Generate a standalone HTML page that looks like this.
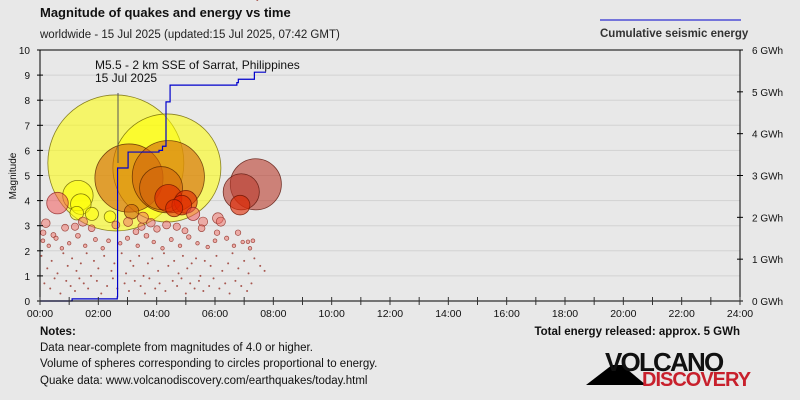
<!DOCTYPE html>
<html><head><meta charset="utf-8"><style>
html,body{margin:0;padding:0;background:#e8e8e8;}
svg{display:block;font-family:"Liberation Sans",sans-serif;}
</style></head><body>
<svg id="chart" width="800" height="400" viewBox="0 0 800 400">
<rect width="800" height="400" fill="#e8e8e8"/>
<text x="40" y="17" font-size="13" font-weight="bold" fill="#111">Magnitude of quakes and energy vs time</text>
<text x="40" y="38" font-size="11.5" fill="#222">worldwide - 15 Jul 2025 (updated:15 Jul 2025, 07:42 GMT)</text>
<line x1="600" y1="20" x2="741" y2="20" stroke="#0000cc" stroke-width="1"/>
<text x="600" y="37" font-size="11.5" font-weight="bold" fill="#333">Cumulative seismic energy</text>
<g id="grid"></g>
<g id="marks"></g>
<g id="energy"></g>
<g id="axes"></g>
<line x1="118" y1="93" x2="118" y2="163" stroke="#555" stroke-width="1"/>
<text x="95" y="69" font-size="12" fill="#111">M5.5 - 2 km SSE of Sarrat, Philippines</text>
<text x="95" y="82" font-size="12" fill="#111">15 Jul 2025</text>
<text transform="translate(16,176) rotate(-90)" text-anchor="middle" font-size="10" fill="#111">Magnitude</text>
<text x="40" y="335" font-size="11.5" font-weight="bold" fill="#111">Notes:</text>
<text x="40" y="351" font-size="11.5" fill="#111">Data near-complete from magnitudes of 4.0 or higher.</text>
<text x="40" y="367" font-size="11.5" fill="#111">Volume of spheres corresponding to circles proportional to energy.</text>
<text x="40" y="384" font-size="11.5" fill="#111">Quake data: www.volcanodiscovery.com/earthquakes/today.html</text>
<text x="740" y="335" text-anchor="end" font-size="11.5" font-weight="bold" fill="#111">Total energy released: approx. 5 GWh</text>
<g>
<polygon points="586,385 612,365 622,365 646,385" fill="#000"/>
<text x="605" y="371" font-size="26" font-weight="bold" fill="#111" letter-spacing="-1.8">VOLCANO</text>
<text x="642" y="386" font-size="20" font-weight="bold" fill="#c8202c" letter-spacing="-1">DISCOVERY</text>
</g>
</svg>
<script>
const xTicks=["00:00","02:00","04:00","06:00","08:00","10:00","12:00","14:00","16:00","18:00","20:00","22:00","24:00"];
const yTicks=[0,1,2,3,4,5,6,7,8,9,10];
const eTicks=["0 GWh","1 GWh","2 GWh","3 GWh","4 GWh","5 GWh","6 GWh"];
// big & medium quakes: hours, magnitudes, colour class
const bigTime=[2.6,4.35,3.05,4.4,7.4,6.9,1.3,4.15,4.4,5.0,0.6,1.4,4.86,6.86,3.14,2.4,5.25,1.26,1.78,4.6];
const bigMag=[5.5,5.3,4.9,4.95,4.65,4.35,4.2,4.5,4.1,3.95,3.9,3.86,3.82,3.82,3.56,3.36,3.47,3.5,3.47,3.7];
const bigCol=["y","y","o","o","d","d","y","o","r","r","p","y","r","r","o","y","p","y","y","r"];
// smaller quakes
const smallTime=[0.2,0.11,0.46,0.86,1.2,1.47,1.77,2.6,3.02,3.53,3.8,3.29,3.48,4.01,4.34,4.69,4.97,5.59,5.54,6.1,6.2,6.07,6.79,7.13,0.1,0.3,0.55,0.75,1.0,1.3,1.55,1.9,2.15,2.35,2.75,3.0,3.35,3.65,3.9,4.2,4.5,4.8,5.1,5.4,5.75,6.0,6.4,6.65,6.95,7.2,7.3,0.05,0.25,0.4,0.6,0.8,0.95,1.1,1.25,1.4,1.6,1.75,1.85,2.0,2.2,2.45,2.55,2.8,2.95,3.1,3.2,3.4,3.55,3.7,3.85,4.05,4.25,4.4,4.6,4.75,4.9,5.05,5.2,5.35,5.5,5.65,5.85,6.05,6.25,6.45,6.6,6.8,7.0,7.15,7.35,7.55,7.7,0.15,0.35,0.5,0.7,0.9,1.05,1.2,1.35,1.5,1.65,1.95,2.1,2.3,2.5,2.65,2.9,3.05,3.25,3.45,3.6,3.75,3.95,4.1,4.3,4.55,4.7,4.85,5.0,5.15,5.3,5.45,5.6,5.8,5.95,6.15,6.35,6.5,6.7,6.9,7.1,7.25,7.45];
const smallMag=[3.1,2.72,2.63,2.92,2.96,3.16,2.9,3.03,3.15,3.32,3.12,2.76,2.96,2.87,3.03,2.96,2.8,3.16,2.9,3.3,3.16,2.72,2.72,2.36,2.4,2.2,2.5,2.1,2.3,2.6,2.2,2.45,2.1,2.4,2.3,2.5,2.2,2.6,2.35,2.1,2.45,2.2,2.55,2.3,2.15,2.4,2.5,2.2,2.35,2.1,2.4,1.8,1.3,1.6,1.1,1.9,1.4,1.7,1.2,1.5,1.9,1.0,1.6,1.3,1.8,1.2,1.5,1.9,1.1,1.6,1.4,1.8,1.0,1.5,1.7,1.2,1.9,1.4,1.6,1.1,1.8,1.3,1.5,1.7,1.0,1.6,1.4,1.8,1.2,1.5,1.9,1.3,1.6,1.1,1.7,1.4,1.2,0.7,0.5,0.9,0.3,0.8,0.6,0.4,0.9,0.7,0.5,0.8,0.3,0.6,0.9,0.5,0.7,0.4,0.8,0.6,0.3,0.9,0.5,0.7,0.4,0.8,0.6,0.9,0.3,0.7,0.5,0.8,0.4,0.6,0.9,0.5,0.7,0.3,0.8,0.6,0.4,0.7];
// cumulative energy steps (hours, GWh)
const eTime=[0,1.0,1.1,2.65,2.66,3.02,4.08,4.2,4.32,4.46,6.75,6.8,7.3,7.35,7.75];
const eVal=[0,0,0.05,0.1,3.18,3.56,3.6,3.7,4.76,5.16,5.22,5.3,5.3,5.47,5.47];

const NS="http://www.w3.org/2000/svg";
const X0=40,X1=740,Y0=301,Y1=50;
const xs=h=>X0+h*(X1-X0)/24;
const ym=m=>Y0-m*(Y0-Y1)/10;
const ye=e=>Y0-e*(Y0-Y1)/6;
const rad=m=>Math.max(1,68*Math.pow(10,0.5*(m-5.5)));
function mk(tag,attrs,parent){const el=document.createElementNS(NS,tag);for(const k in attrs)el.setAttribute(k,attrs[k]);parent.appendChild(el);return el;}
const grid=document.getElementById('grid'),marks=document.getElementById('marks'),en=document.getElementById('energy'),axes=document.getElementById('axes');
yTicks.forEach(v=>{if(v===0)return;
const l=mk('line',{x1:X0,x2:X1,y1:ym(v),y2:ym(v),stroke:v===10?'#000':'#d2d2d2','stroke-width':1},grid);

});
const fills={y:['rgba(255,255,0,0.55)','rgba(110,100,0,0.8)'],o:['rgba(210,100,10,0.6)','rgba(90,40,0,0.8)'],r:['rgba(225,40,0,0.6)','rgba(110,20,0,0.8)'],d:['rgba(185,60,45,0.6)','rgba(90,20,10,0.8)'],p:['rgba(240,90,90,0.55)','rgba(140,30,30,0.8)']};
bigTime.forEach((t,i)=>{const f=fills[bigCol[i]];
const c=mk('circle',{cx:xs(t),cy:ym(bigMag[i]),r:rad(bigMag[i]),fill:f[0],stroke:f[1],'stroke-width':0.8},marks);

});
smallTime.forEach((t,i)=>{const m=smallMag[i];const big=m>=2;
const c=mk('circle',{cx:xs(t),cy:ym(m),r:big?Math.max(1.8,rad(m)):1,fill:big?'rgba(240,110,100,0.5)':'rgba(150,50,40,0.8)',stroke:big?'rgba(140,40,30,0.8)':'none','stroke-width':0.7},marks);

});
let d='';eTime.forEach((t,i)=>{if(i===0)d+='M'+xs(t)+','+ye(eVal[i]);else d+='H'+xs(t)+'V'+ye(eVal[i]);});
const p=mk('path',{d:d,fill:'none',stroke:'#0000cc','stroke-width':1.2},en);


mk('line',{x1:X0,x2:X0,y1:Y1,y2:Y0,stroke:'#000'},axes);
mk('line',{x1:X1,x2:X1,y1:Y1,y2:Y0,stroke:'#000'},axes);
mk('line',{x1:X0,x2:X1,y1:Y0,y2:Y0,stroke:'#000'},axes);
yTicks.forEach(v=>{mk('line',{x1:X0-3,x2:X0+3,y1:ym(v),y2:ym(v),stroke:'#000'},axes);
const t=mk('text',{x:30,y:ym(v)+4,'text-anchor':'end','font-size':10,fill:'#111'},axes);t.textContent=v;

});
eTicks.forEach((s,i)=>{mk('line',{x1:X1-3,x2:X1+3,y1:ye(i),y2:ye(i),stroke:'#000'},axes);
const t=mk('text',{x:752,y:ye(i)+4,'font-size':10,fill:'#111'},axes);t.textContent=s;

});
for(let h=0;h<=24;h++)mk('line',{x1:xs(h),x2:xs(h),y1:Y0-4,y2:Y0+4,stroke:'#333'},axes);
xTicks.forEach((s,i)=>{const t=mk('text',{x:xs(i*2),y:317,'text-anchor':'middle','font-size':10.5,fill:'#111'},axes);t.textContent=s;

});
</script>
</body></html>
